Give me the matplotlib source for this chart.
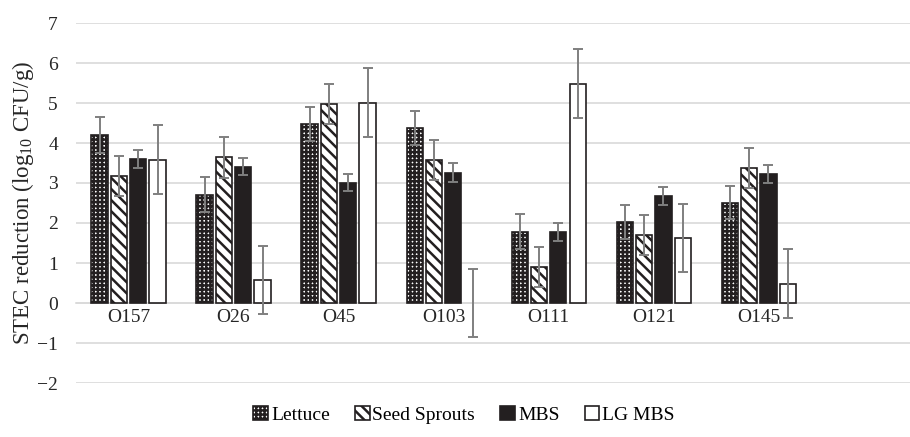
import numpy as np
import matplotlib
matplotlib.use("Agg")
import matplotlib.pyplot as plt
from matplotlib.legend_handler import HandlerTuple

plt.rcParams['font.family'] = ['Liberation Serif', 'DejaVu Serif']
plt.rcParams['mathtext.fontset'] = 'custom'
plt.rcParams['mathtext.rm'] = 'Liberation Serif'
plt.rcParams['hatch.linewidth'] = 1.8

# serogroups (last slot is an empty category, as in the original sheet)
groups = ['O157', 'O26', 'O45', 'O103', 'O111', 'O121', 'O145', '']

lettuce = [4.20, 2.71, 4.48, 4.37, 1.78, 2.03, 2.51]
sprouts = [3.18, 3.64, 4.98, 3.58, 0.90, 1.71, 3.37]
mbs     = [3.60, 3.41, 3.01, 3.26, 1.77, 2.68, 3.23]
lg_mbs  = [3.58, 0.57, 5.01, 0.00, 5.48, 1.63, 0.48]

lettuce_err = [0.44, 0.44, 0.43, 0.43, 0.44, 0.43, 0.42]
sprouts_err = [0.50, 0.51, 0.50, 0.50, 0.51, 0.50, 0.50]
mbs_err     = [0.23, 0.22, 0.22, 0.23, 0.23, 0.23, 0.22]
lg_mbs_err  = [0.86, 0.85, 0.86, 0.86, 0.86, 0.85, 0.86]

series = ['Lettuce', 'Seed Sprouts', 'MBS', 'LG MBS']

fig = plt.figure(figsize=(9.1, 4.37), dpi=100)
ax = fig.add_axes([76/910, 1-383/437, 1-76/910, (383-23)/437])

x = np.arange(len(lettuce))
step = 0.184
w = 0.155
offs = [-1.5*step, -0.5*step, 0.5*step, 1.5*step]

styles = [
    dict(facecolor='white', edgecolor='#231f20', hatch='++++'),   # small white squares on black
    dict(facecolor='white', edgecolor='#231f20', hatch='\\\\\\'),
    dict(facecolor='#231f20', edgecolor='#231f20', hatch=None),
    dict(facecolor='white', edgecolor='white', hatch=None),
]
data = [lettuce, sprouts, mbs, lg_mbs]
errs = [lettuce_err, sprouts_err, mbs_err, lg_mbs_err]

handles = []
for vals, err, off, st, name in zip(data, errs, offs, styles, series):
    b1 = ax.bar(x + off, vals, w, linewidth=0, zorder=3, **st)
    lw = [1.2 if v != 0 else 0 for v in vals]
    b2 = ax.bar(x + off, vals, w, fill=False, edgecolor='#231f20', linewidth=lw, zorder=4)
    ax.errorbar(x + off, vals, yerr=err, fmt='none', ecolor='#7f7f7f',
                elinewidth=1.4, capsize=3.5, capthick=1.4, zorder=5)
    handles.append((b1[0], b2[0]))

ax.set_ylim(-2, 7)
ax.set_xlim(-0.5, 7.44)
ax.set_yticks(range(-2, 8))
ax.set_xticks(range(len(groups)))
ax.set_xticklabels(groups)
ax.yaxis.grid(True, color='#d9d9d9', linewidth=1.2, zorder=0)
ax.set_axisbelow(True)
for s in ['top', 'right', 'left']:
    ax.spines[s].set_visible(False)
ax.spines['bottom'].set_position(('data', 0))
ax.spines['bottom'].set_color('#d9d9d9')
ax.spines['bottom'].set_linewidth(1.2)
ax.tick_params(axis='both', length=0, labelsize=14, colors='#262626')
ax.tick_params(axis='y', pad=13)
ax.tick_params(axis='x', pad=4)

fig.text(0.025, 1-203/437, r'STEC reduction (log$_{\mathrm{10}}$ CFU/g)',
         rotation=90, va='center', ha='center', fontsize=16.5, color='#262626')

fig.legend(handles, series, loc='center', bbox_to_anchor=(0.51, 0.05), ncol=4,
           frameon=False, fontsize=14, handlelength=0.75, handleheight=0.75,
           handletextpad=0.15, columnspacing=1.3,
           handler_map={tuple: HandlerTuple(ndivide=1)})

fig.savefig('out.png', dpi=100)
